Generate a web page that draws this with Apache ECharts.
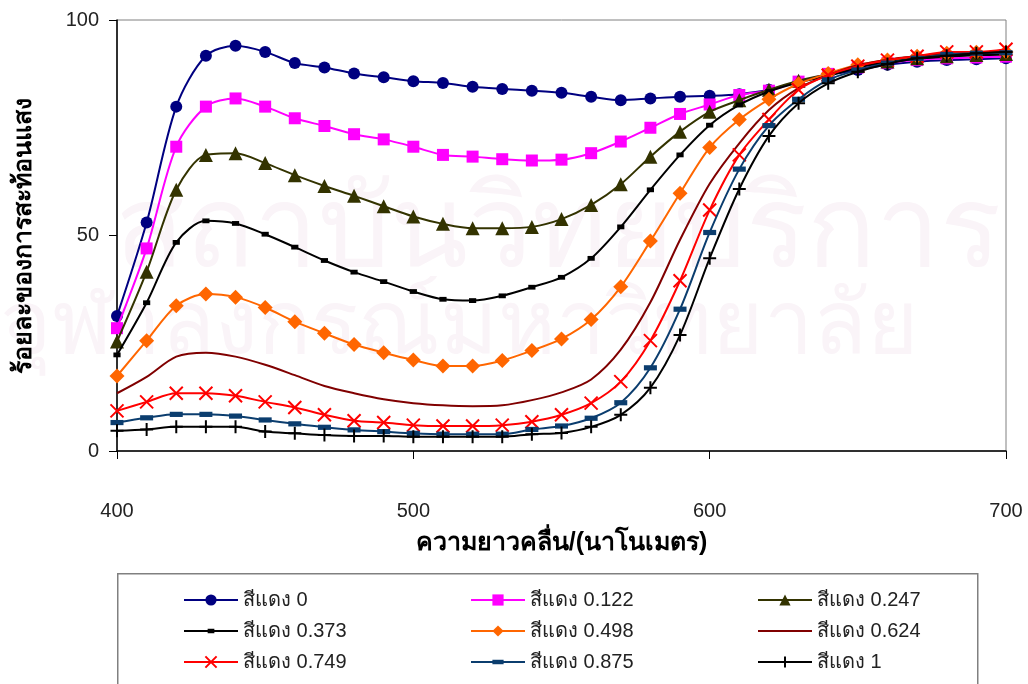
<!DOCTYPE html>
<html>
<head>
<meta charset="utf-8">
<script src="https://cdn.jsdelivr.net/npm/echarts@6/dist/echarts.min.js"></script>
<style>
  html, body { margin: 0; padding: 0; background: #fff; }
  #chart { width: 1028px; height: 684px; }
</style>
</head>
<body>
<div id="chart"></div>
<script>
// wavelength, nm
const wavelengths = [400, 410, 420, 430, 440, 450, 460, 470, 480, 490, 500,
  510, 520, 530, 540, 550, 560, 570, 580, 590, 600,
  610, 620, 630, 640, 650, 660, 670, 680, 690, 700];

const red0 = [31.3, 53.0, 79.9, 91.7, 94.0, 92.6, 90.0, 89.0, 87.6, 86.7, 85.8,
  85.4, 84.5, 84.0, 83.6, 83.1, 82.2, 81.4, 81.8, 82.2, 82.4,
  82.8, 83.8, 85.7, 87.2, 88.4, 89.6, 90.3, 90.7, 90.9, 91.1];
const red0122 = [28.5, 47.0, 70.6, 79.9, 81.8, 79.9, 77.2, 75.4, 73.5, 72.3, 70.6,
  68.7, 68.3, 67.7, 67.4, 67.6, 69.1, 71.8, 75.0, 78.2, 80.4,
  82.6, 83.6, 85.7, 87.5, 89.0, 90.0, 90.7, 91.1, 91.3, 91.5];
const red0247 = [25.4, 41.6, 60.6, 68.7, 69.1, 66.8, 64.0, 61.5, 59.2, 56.8, 54.4,
  52.7, 51.7, 51.7, 52.0, 53.8, 57.1, 61.9, 68.3, 74.1, 78.7,
  81.4, 83.8, 85.9, 87.5, 89.3, 90.4, 91.1, 91.6, 91.9, 92.1];
const red0373 = [22.3, 34.4, 48.4, 53.4, 52.8, 50.3, 47.3, 44.2, 41.5, 39.3, 37.0,
  35.2, 34.9, 36.0, 38.0, 40.3, 44.7, 52.0, 60.6, 68.7, 75.6,
  80.3, 83.4, 85.5, 87.0, 89.0, 90.2, 91.0, 91.5, 91.8, 92.0];
const red0498 = [17.4, 25.6, 33.7, 36.4, 35.7, 33.3, 30.0, 27.3, 24.7, 22.8, 21.1,
  19.7, 19.7, 21.0, 23.3, 26.0, 30.5, 38.1, 48.7, 59.8, 70.4,
  76.9, 81.6, 85.2, 87.6, 89.6, 90.7, 91.6, 92.3, 92.5, 92.6];
const red0624 = [13.4, 17.2, 21.9, 22.8, 21.9, 20.0, 17.6, 15.1, 13.4, 12.0, 11.1,
  10.6, 10.4, 10.6, 11.8, 13.6, 16.6, 23.5, 34.5, 49.0, 62.0,
  71.4, 79.1, 84.2, 87.2, 89.5, 90.8, 91.6, 92.2, 92.4, 92.6];
const red0749 = [9.3, 11.4, 13.4, 13.4, 12.8, 11.4, 10.1, 8.4, 7.0, 6.6, 6.0,
  5.8, 5.8, 6.0, 6.8, 8.4, 11.1, 16.1, 25.6, 39.5, 55.9,
  68.7, 76.9, 83.8, 87.2, 89.3, 90.7, 91.6, 92.6, 92.6, 93.2];
const red0875 = [6.6, 7.7, 8.5, 8.5, 8.1, 7.2, 6.3, 5.5, 4.9, 4.5, 4.1,
  3.9, 3.9, 3.9, 5.0, 5.8, 7.6, 11.2, 19.3, 32.9, 50.7,
  65.4, 75.5, 81.6, 86.1, 88.4, 90.0, 91.1, 92.0, 92.3, 92.4];
const red1 = [4.7, 5.0, 5.6, 5.6, 5.6, 4.5, 4.1, 3.7, 3.5, 3.5, 3.3,
  3.3, 3.3, 3.3, 3.9, 4.2, 5.6, 8.4, 14.7, 26.9, 44.7,
  60.8, 73.1, 80.7, 85.3, 88.0, 89.8, 91.1, 91.7, 92.3, 92.6];

const seriesNames = ['สีแดง 0', 'สีแดง 0.122', 'สีแดง 0.247', 'สีแดง 0.373', 'สีแดง 0.498',
  'สีแดง 0.624', 'สีแดง 0.749', 'สีแดง 0.875', 'สีแดง 1'];
const seriesValues = [red0, red0122, red0247, red0373, red0498, red0624, red0749, red0875, red1];
const xTicks = [400, 500, 600, 700];

const FONT = 'Liberation Sans, Arial, sans-serif';
// the leading moves keep a square box so the marks keep their shape after scaling
const X_PATH = 'path://M0,0L10,10M10,0L0,10';
const PLUS_PATH = 'path://M5,0L5,10M0,5L10,5';
const DASH_PATH = 'path://M0,0M10,10M0,3L10,3L10,7L0,7Z';
const SMALL_DASH_PATH = 'path://M0,0M10,10M2,3L8,3L8,7L2,7Z';
const NO_MARK = 'path://M0,0M10,10M0,5L10,5';

// look of each series, same order as seriesNames
const styles = [
  { color: '#000080', symbol: 'circle', size: 12 },
  { color: '#FF00FF', symbol: 'rect', size: 12 },
  { color: '#333300', symbol: 'triangle', size: 14 },
  { color: '#000000', symbol: SMALL_DASH_PATH, size: 12 },
  { color: '#FF6600', symbol: 'diamond', size: 15 },
  { color: '#800000', symbol: NO_MARK, size: 10, hide: true },
  { color: '#FF0000', symbol: X_PATH, size: 13, stroke: true },
  { color: '#0B3D6E', symbol: DASH_PATH, size: 13 },
  { color: '#000000', symbol: PLUS_PATH, size: 13, stroke: true }
];

const series = seriesNames.map(function (name, i) {
  const st = styles[i];
  return {
    name: name,
    type: 'line',
    smooth: 0.3,
    data: wavelengths.map(function (w, j) { return [w, seriesValues[i][j]]; }),
    symbol: st.symbol,
    symbolSize: st.size,
    showSymbol: !st.hide,
    lineStyle: { color: st.color, width: 2 },
    itemStyle: st.stroke
      ? { color: st.color, borderColor: st.color, borderWidth: 2 }
      : { color: st.color, borderColor: st.color, borderWidth: 0 },
    emphasis: { disabled: true },
    z: 2 + i
  };
});

// legend: 3 columns x 3 rows, one small legend per entry
const legendCols = [183, 470, 757];
const legendRows = [590, 621, 652];
const legends = seriesNames.map(function (name, i) {
  return {
    left: legendCols[i % 3],
    top: legendRows[Math.floor(i / 3)],
    padding: 0,
    itemWidth: 54,
    itemHeight: 14,
    textStyle: { fontFamily: FONT, fontSize: 20, color: '#222' },
    data: [name],
    selectedMode: false
  };
});

const option = {
  animation: false,
  backgroundColor: '#fff',
  grid: {
    left: 117, right: 22, top: 20, bottom: 233,
    outerBoundsMode: 'none',
    show: true, borderColor: '#808080', borderWidth: 1
  },
  xAxis: {
    type: 'value',
    min: 400, max: 700, interval: 100,
    name: 'ความยาวคลื่น/(นาโนเมตร)',
    nameLocation: 'middle',
    nameGap: 80,
    nameTextStyle: { fontFamily: FONT, fontSize: 25, fontWeight: 'bold', color: '#000' },
    axisLine: { lineStyle: { color: '#000', width: 1.5 } },
    axisTick: { length: 8, lineStyle: { color: '#000' } },
    axisLabel: {
      margin: 50, fontFamily: FONT, fontSize: 20, color: '#222',
      customValues: xTicks
    },
    splitLine: { show: false }
  },
  yAxis: {
    type: 'value',
    min: 0, max: 100, interval: 50,
    name: 'ร้อยละของการสะท้อนแสง',
    nameLocation: 'middle',
    nameGap: 80,
    nameTextStyle: { fontFamily: FONT, fontSize: 25, fontWeight: 'bold', color: '#000' },
    axisLine: { show: true, lineStyle: { color: '#000', width: 1.5 } },
    axisTick: { show: true, length: 8, lineStyle: { color: '#000' } },
    axisLabel: { margin: 18, fontFamily: FONT, fontSize: 20, color: '#222' },
    splitLine: { show: false }
  },
  legend: legends,
  graphic: [
    {
      type: 'rect', left: 117, top: 573, z: -1,
      shape: { width: 860, height: 130 },
      style: { fill: '#fff', stroke: '#808080', lineWidth: 1.5 }
    },
    {
      type: 'text', left: 115, top: 178, z: -10, silent: true,
      style: { text: 'สถาบันวิทยบริการ', font: '114px ' + FONT, fill: '#faf4f8' }
    },
    {
      type: 'text', left: 0, top: 285, z: -10, silent: true,
      style: { text: 'จุฬาลงกรณ์มหาวิทยาลัย', font: '88px ' + FONT, fill: '#faf4f8' }
    }
  ],
  series: series
};

const chart = echarts.init(document.getElementById('chart'), null, { renderer: 'canvas' });
chart.setOption(option);
</script>
</body>
</html>
